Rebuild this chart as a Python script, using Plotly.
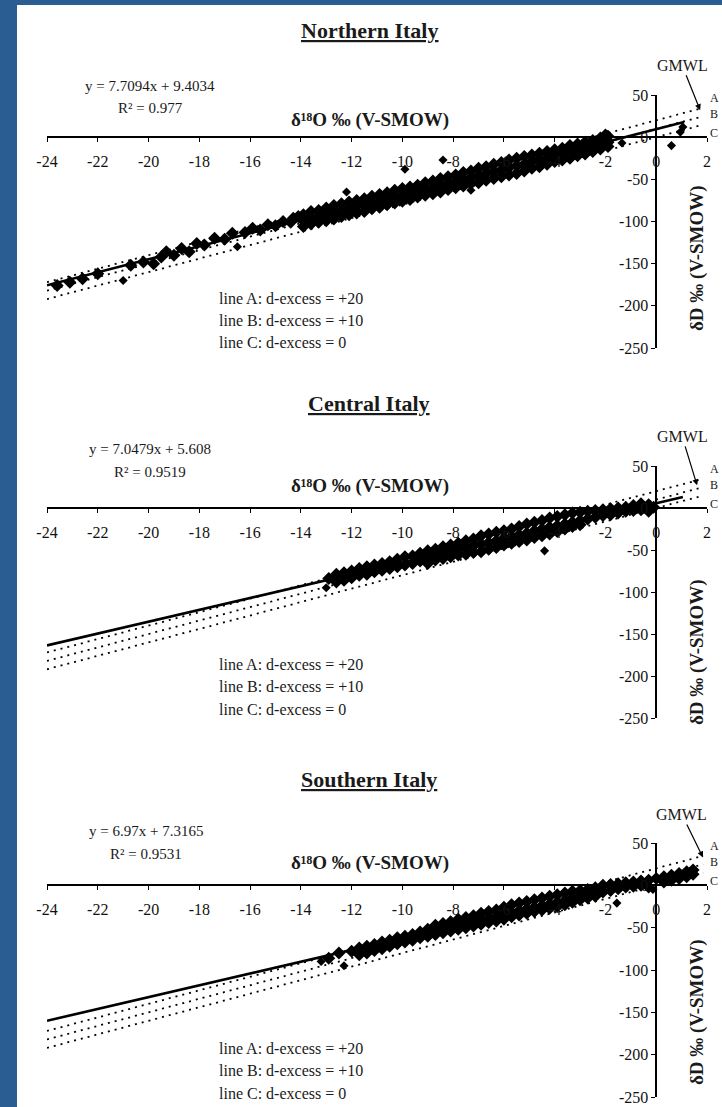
import plotly.graph_objects as go

W, H = 722, 1107
FONT = "Liberation Serif"

# ---- data -------------------------------------------------------------
regions = ["Northern Italy", "Central Italy", "Southern Italy"]
fit_slope = [7.7094, 7.0479, 6.97]
fit_intercept = [9.4034, 5.608, 7.3165]
fit_r2 = ["0.977", "0.9519", "0.9531"]
fit_xmax = [1.1, 1.05, 1.65]

# reference lines parallel to the GMWL: dD = 8 d18O + d-excess
gmwl_slope = 8
d_excess = [20, 10, 0]
ref_names = ["A", "B", "C"]
ref_label_y = [47, 27, 5]
ref_x = [-24, 1.85]

x_ticks = [-24, -22, -20, -18, -16, -14, -12, -10, -8, -6, -4, -2, 0, 2]
y_ticks = [-250, -200, -150, -100, -50, 0, 50]

# main clouds
north_x = [
    -23.6, -23.1, -22.6, -22.0, -20.7, -20.2, -19.8, -19.5, -19.3,
    -19.0, -18.7, -18.4, -18.1, -17.8, -17.4, -17.0, -16.7, -16.2,
    -15.9, -15.6, -15.3, -15.0, -14.7, -14.4, -14.3, -14.1,
    -13.9, -13.9, -13.9, -13.6, -13.6, -13.6, -13.3, -13.3, -13.3,
    -13.0, -13.0, -13.0, -12.7, -12.7, -12.7, -12.4, -12.4, -12.4,
    -12.1, -12.1, -12.1, -11.8, -11.8, -11.8, -11.5, -11.5, -11.5,
    -11.2, -11.2, -11.2, -10.9, -10.9, -10.9, -10.6, -10.6, -10.6,
    -10.3, -10.3, -10.3, -10.0, -10.0, -10.0, -9.7, -9.7, -9.7,
    -9.4, -9.4, -9.4, -9.1, -9.1, -9.1, -8.8, -8.8, -8.8,
    -8.5, -8.5, -8.5, -8.2, -8.2, -8.2, -7.9, -7.9, -7.9,
    -7.6, -7.6, -7.6, -7.3, -7.3, -7.3, -7.0, -7.0, -7.0,
    -6.7, -6.7, -6.7, -6.4, -6.4, -6.4, -6.1, -6.1, -6.1,
    -5.8, -5.8, -5.8, -5.5, -5.5, -5.5, -5.2, -5.2, -5.2,
    -4.9, -4.9, -4.9, -4.6, -4.6, -4.6, -4.3, -4.3, -4.3,
    -4.0, -4.0, -4.0, -3.7, -3.7, -3.7, -3.4, -3.4, -3.4,
    -3.1, -3.1, -3.1, -2.8, -2.8, -2.8, -2.5, -2.5, -2.5,
    -2.2, -2.2, -2.2, -1.9, -1.9, -1.9,
]
north_y = [
    -176, -172, -168, -162, -152, -148, -150, -142, -136,
    -140, -132, -136, -126, -128, -120, -121, -114, -113,
    -108, -110, -104, -105, -100, -101, -96, -94,
    -92, -99, -106, -88, -96, -103, -87, -94, -101,
    -84, -92, -99, -81, -89, -97, -79, -87, -94,
    -77, -85, -92, -75, -82, -90, -73, -80, -88,
    -70, -78, -85, -68, -76, -83, -66, -73, -80,
    -63, -71, -78, -61, -69, -76, -59, -66, -74,
    -57, -64, -71, -54, -62, -69, -52, -60, -67,
    -49, -57, -65, -47, -55, -62, -45, -53, -60,
    -42, -50, -58, -40, -48, -55, -37, -46, -54,
    -35, -43, -51, -32, -41, -49, -30, -39, -47,
    -27, -36, -45, -25, -34, -43, -23, -32, -40,
    -21, -29, -37, -19, -27, -35, -17, -25, -32,
    -15, -22, -29, -13, -20, -27, -10, -18, -25,
    -8, -15, -22, -6, -13, -20, -4, -11, -17,
    -1, -8, -14, 1, -6, -11,
]
# isolated samples
north_out_x = [-21.0, -16.5, -12.2, -9.9, -8.4, -7.3, -2.0, -1.35, 0.6, 0.95, 1.05]
north_out_y = [-170, -130, -65, -38, -27, -63, 5, -7, -10, 6, 12]

central_x = [
    -12.9, -12.6, -12.6, -12.3, -12.3, -12.0, -12.0, -11.7, -11.7,
    -11.4, -11.4, -11.1, -11.1, -10.8, -10.8, -10.5, -10.5, -10.2, -10.2,
    -9.9, -9.9, -9.6, -9.6, -9.3, -9.3, -9.0, -9.0, -9.0,
    -8.7, -8.7, -8.7, -8.4, -8.4, -8.4, -8.1, -8.1, -8.1,
    -7.8, -7.8, -7.8, -7.5, -7.5, -7.5, -7.2, -7.2, -7.2,
    -6.9, -6.9, -6.9, -6.6, -6.6, -6.6, -6.3, -6.3, -6.3,
    -6.0, -6.0, -6.0, -5.7, -5.7, -5.7, -5.4, -5.4, -5.4,
    -5.1, -5.1, -5.1, -4.8, -4.8, -4.8, -4.5, -4.5, -4.5,
    -4.2, -4.2, -4.2, -3.9, -3.9, -3.9, -3.6, -3.6, -3.6,
    -3.3, -3.3, -3.3, -3.0, -3.0, -3.0,
    -2.7, -2.7, -2.4, -2.4, -2.1, -2.1, -1.8, -1.8, -1.5, -1.5,
    -1.2, -1.2, -0.9, -0.9, -0.6, -0.6, -0.3, -0.3, -0.1,
]
central_y = [
    -84, -79, -88, -77, -86, -75, -83, -72, -80,
    -70, -79, -68, -76, -66, -74, -64, -72, -61, -70,
    -58, -68, -57, -66, -54, -63, -51, -59, -66,
    -49, -55, -62, -46, -53, -60, -44, -51, -58,
    -42, -49, -56, -39, -47, -55, -37, -45, -53,
    -33, -43, -52, -31, -41, -49, -29, -39, -47,
    -27, -36, -44, -25, -34, -42, -22, -32, -40,
    -19, -30, -38, -17, -27, -35, -15, -25, -33,
    -12, -23, -31, -10, -21, -28, -8, -19, -25,
    -6, -17, -22, -5, -15, -20,
    -4, -13, -3, -11, -2, -9, -1, -8, 0, -6,
    1, -4, 3, -3, 5, -2, 4, -4, 1,
]
central_out_x = [-13.0, -4.4]
central_out_y = [-95, -51]

south_x = [
    -12.9, -12.5, -12.0, -11.7, -11.7, -11.4, -11.4, -11.1,
    -11.1, -10.8, -10.8, -10.5, -10.5, -10.2, -10.2, -9.9, -9.9, -9.6,
    -9.6, -9.3, -9.3, -9.0, -9.0,
    -8.7, -8.7, -8.7, -8.4, -8.4, -8.4, -8.1, -8.1, -8.1,
    -7.8, -7.8, -7.8, -7.5, -7.5, -7.5, -7.2, -7.2, -7.2,
    -6.9, -6.9, -6.9, -6.6, -6.6, -6.6, -6.3, -6.3, -6.3,
    -6.0, -6.0, -6.0, -5.7, -5.7, -5.7, -5.4, -5.4, -5.4,
    -5.1, -5.1, -5.1, -4.8, -4.8, -4.8, -4.5, -4.5, -4.5,
    -4.2, -4.2, -4.2, -3.9, -3.9, -3.9, -3.6, -3.6, -3.6,
    -3.3, -3.3, -3.3, -3.0, -3.0, -3.0, -2.7, -2.7, -2.7,
    -2.4, -2.4, -2.4,
    -2.1, -2.1, -1.8, -1.8, -1.5, -1.5, -1.2, -1.2, -0.9, -0.9,
    -0.6, -0.6, -0.3, -0.3, 0.0, 0.3, 0.3, 0.6, 0.6,
    0.9, 0.9, 1.2, 1.2, 1.45, 1.45,
]
south_y = [
    -86, -80, -78, -74, -82, -72, -80, -70,
    -77, -67, -75, -65, -72, -62, -69, -60, -67, -58,
    -65, -55, -62, -52, -60,
    -47, -53, -58, -45, -51, -56, -43, -49, -54,
    -40, -47, -52, -38, -45, -50, -36, -43, -48,
    -33, -41, -46, -31, -39, -44, -29, -37, -42,
    -26, -34, -40, -23, -32, -37, -21, -30, -35,
    -19, -28, -33, -17, -26, -31, -15, -24, -29,
    -13, -22, -27, -11, -20, -25, -9, -18, -23,
    -7, -15, -20, -6, -13, -17, -5, -11, -15,
    -3, -9, -13,
    0, -8, 1, -6, 2, -4, 3, -2, 4, -1,
    5, 0, 6, -2, 8, 10, 4, 12, 6,
    14, 8, 16, 10, 18, 13,
]
south_out_x = [-13.2, -12.3, -1.55, -0.13]
south_out_y = [-90, -95, -21, -5]

panel_x = [north_x, central_x, south_x]
panel_y = [north_y, central_y, south_y]
panel_out_x = [north_out_x, central_out_x, south_out_x]
panel_out_y = [north_out_y, central_out_y, south_out_y]

# ---- page geometry (pixels) ------------------------------------------
x_left, x_right = 47, 707
panel_top = [95, 466, 843]       # y = 50
panel_bottom = [348, 718, 1097]  # y = -250
title_y = [30, 403, 780]
eq_x = [150, 150, 146]
eq_y = [86, 449, 831]
r2_y = [108, 472, 854]
xtitle_y = [120, 486, 863]
ytitle_y = [258, 652, 1012]
legend_y = [298, 664, 1048]
gmwl_head = [(1.73, 32), (1.61, 27), (1.84, 33)]
gmwl_offset = [(-18, -45), (-15, -49), (-21, -43)]


def px(x):
    return x / W


def py(y):
    return 1 - y / H


def label(x, y, text, size, **kw):
    d = dict(x=px(x), y=py(y), xref="paper", yref="paper", text=text,
             showarrow=False, xanchor="center", yanchor="middle",
             font=dict(family=FONT, size=size, color="#1a1a1a"))
    d.update(kw)
    return d


fig = go.Figure()
annotations = []
x0_pos = px(x_left + (x_right - x_left) * 24 / 26)

for i in range(3):
    n = "" if i == 0 else str(i + 1)
    xa, ya = "x" + n, "y" + n

    for d in d_excess:
        fig.add_trace(go.Scatter(
            x=ref_x, y=[gmwl_slope * v + d for v in ref_x],
            xaxis=xa, yaxis=ya, mode="lines",
            line=dict(color="black", width=1.8, dash="2px,5px"),
            hoverinfo="skip",
        ))

    fig.add_trace(go.Scatter(
        x=panel_x[i], y=panel_y[i], xaxis=xa, yaxis=ya, mode="markers",
        marker=dict(symbol="diamond", size=10, color="black", line_width=0),
    ))
    fig.add_trace(go.Scatter(
        x=panel_out_x[i], y=panel_out_y[i], xaxis=xa, yaxis=ya, mode="markers",
        marker=dict(symbol="diamond", size=7, color="black", line_width=0),
    ))

    fx = [-24, fit_xmax[i]]
    fig.add_trace(go.Scatter(
        x=fx, y=[fit_slope[i] * v + fit_intercept[i] for v in fx],
        xaxis=xa, yaxis=ya, mode="lines",
        line=dict(color="black", width=2.6),
    ))

    dom = [py(panel_bottom[i]), py(panel_top[i])]
    zero_y = py(panel_top[i] + (panel_bottom[i] - panel_top[i]) * 50 / 300)
    fig.layout["xaxis" + n] = dict(
        domain=[px(x_left), px(x_right)], range=[-24, 2],
        anchor="free", position=zero_y, automargin=False,
        showline=True, linecolor="black", linewidth=1.6,
        ticks="outside", ticklen=4, tickwidth=1.3, tickcolor="black",
        tickvals=x_ticks, ticktext=[str(v) for v in x_ticks],
        tickfont=dict(family=FONT, size=16, color="#111"),
        ticklabelstandoff=6,
        showgrid=False, zeroline=False, fixedrange=True,
    )
    fig.layout["yaxis" + n] = dict(
        domain=dom, range=[-250, 50],
        anchor="free", position=x0_pos, side="left", automargin=False,
        showline=True, linecolor="black", linewidth=1.6,
        ticks="outside", ticklen=4, tickwidth=1.3, tickcolor="black",
        tickvals=y_ticks, ticktext=[str(v) for v in y_ticks],
        tickfont=dict(family=FONT, size=16, color="#111"),
        showgrid=False, zeroline=False, fixedrange=True,
    )

    annotations += [
        label(369, title_y[i], "<b><u>%s</u></b>" % regions[i], 22),
        label(eq_x[i], eq_y[i],
              "y = %sx + %s" % (fit_slope[i], fit_intercept[i]), 15),
        label(eq_x[i], r2_y[i], "R² = %s" % fit_r2[i], 15),
        label(370, xtitle_y[i], "<b>δ¹⁸O ‰ (V-SMOW)</b>", 19),
        label(697, ytitle_y[i], "<b>δD ‰ (V-SMOW)</b>", 19, textangle=-90),
        dict(x=gmwl_head[i][0], y=gmwl_head[i][1], xref=xa, yref=ya,
             text="GMWL", showarrow=True, arrowhead=2, arrowsize=1,
             arrowwidth=1.2, arrowcolor="black",
             ax=gmwl_offset[i][0], ay=gmwl_offset[i][1],
             font=dict(family=FONT, size=16, color="#1a1a1a")),
    ]
    for k, name in enumerate(ref_names):
        annotations.append(dict(
            x=2, y=ref_label_y[k], xref=xa, yref=ya, xshift=7,
            xanchor="center", yanchor="middle",
            text=name, showarrow=False,
            font=dict(family=FONT, size=12, color="#1a1a1a")))
        dx = "+%d" % d_excess[k] if d_excess[k] else "0"
        annotations.append(label(
            217, legend_y[i] + 22.5 * k,
            "line %s: d-excess = %s" % (name, dx), 16, xanchor="left"))

fig.update_layout(
    template="none",
    margin=dict(l=0, r=0, t=0, b=0, pad=0, autoexpand=False),
    paper_bgcolor="#2a5d91", plot_bgcolor="rgba(0,0,0,0)",
    showlegend=False,
    annotations=annotations,
    shapes=[dict(type="rect", xref="paper", yref="paper",
                 x0=px(17), x1=1, y0=0, y1=py(5),
                 fillcolor="white", line_width=0, layer="below")],
)

# the div is pinned to the page corner so the body margin does not shift it
fig.write_html("out.html",
               config={"displayModeBar": False},
               default_width="%dpx;position:absolute;left:0;top:0" % W,
               default_height="%dpx" % H)
